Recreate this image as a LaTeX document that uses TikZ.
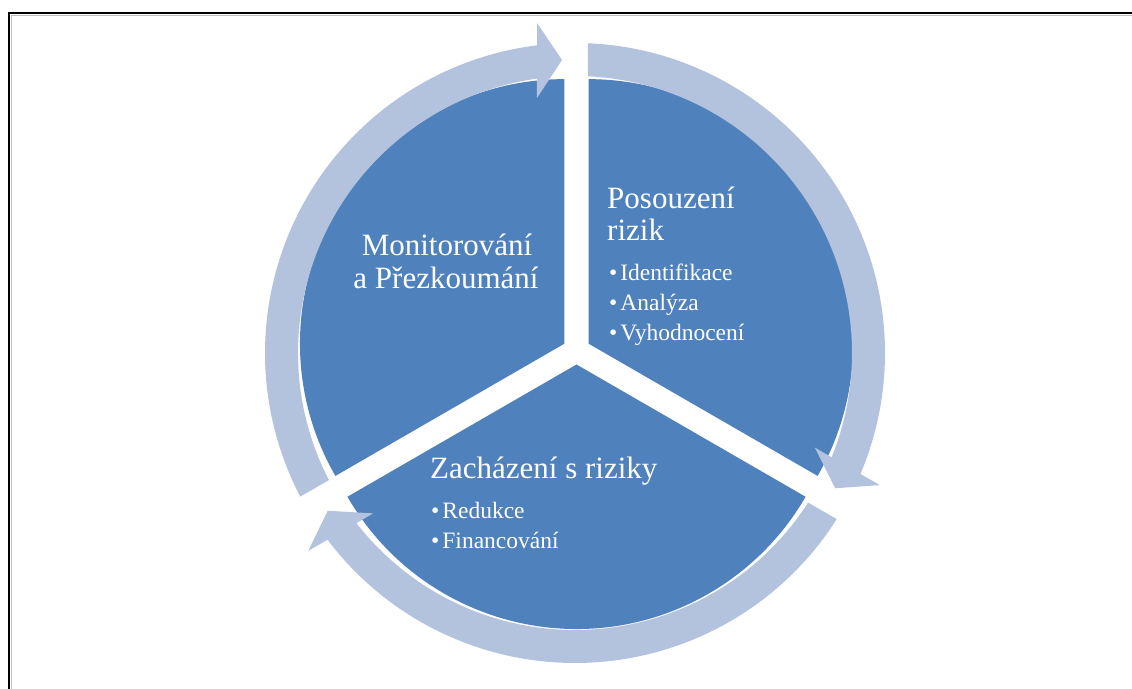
\documentclass[tikz,border=0pt]{standalone}
\usepackage{fontspec}
\setmainfont{Liberation Serif}
\definecolor{pieblue}{HTML}{4F81BD}
\definecolor{arrowlight}{HTML}{B3C2DD}
\begin{document}
\begin{tikzpicture}[x=1pt,y=1pt,
  sector/.style={fill=pieblue},
  cyclearrow/.style={fill=arrowlight},
  title/.style={text=white, font=\fontsize{31}{32}\selectfont, inner sep=0pt},
  item/.style={text=white, font=\fontsize{23.5}{30}\selectfont, inner sep=0pt, anchor=base west}]
\useasboundingbox (0,0) rectangle (1132,688);
\clip (0,0) rectangle (1132,688);
\fill[white] (0,0) rectangle (1132,688);
\draw[gray!50, line width=1pt] (11,-10) -- (11,672.5) -- (1150,672.5);
\draw[line width=2pt] (9,-10) -- (9,674.5) -- (1150,674.5);

\coordinate (P) at (576.5,337.4);
\coordinate (C) at (575,335);

% pie sectors (exploded)
\foreach \a in {30,150,270} {
  \fill[sector] ([shift={(\a:13.9)}]P) -- +(\a-60:264.5)
     arc[start angle=\a-60, end angle=\a+60, radius=264.5] -- cycle;
}

% circular arrows (clockwise)
\foreach \g in {90,210,330} {
  \fill[cyclearrow] ([shift={(\g-2.69:277)}]C) -- ([shift={(\g-2.40:310)}]C)
     arc[start angle=\g-2.40, end angle=\g-112.96, radius=310]
     -- ([shift={(\g-113.43:332.2)}]C) -- ([shift={(\g-117.46:293.3)}]C)
     -- ([shift={(\g-111.52:257.8)}]C) -- ([shift={(\g-112.11:277)}]C)
     arc[start angle=\g-112.11, end angle=\g-2.69, radius=277] -- cycle;
}

\node[title, anchor=base] (mon1) at (447,432) {Monitorování};
\node[title, anchor=base] (mon2) at (446,399) {a Přezkoumání};
\node[title, anchor=base west] (pos1) at (607,479) {Posouzení};
\node[title, anchor=base west] (pos2) at (607,447) {rizik};
\node[item] (i1) at (609,407) {•\kern3pt Identifikace};
\node[item] (i2) at (609,377) {•\kern3pt Analýza};
\node[item] (i3) at (609,347) {•\kern3pt Vyhodnocení};
\node[title, anchor=base west] (zach) at (430,209) {Zacházení s riziky};
\node[item] (r1) at (431,169) {•\kern3pt Redukce};
\node[item] (r2) at (431,139) {•\kern3pt Financování};
\end{tikzpicture}
\end{document}
